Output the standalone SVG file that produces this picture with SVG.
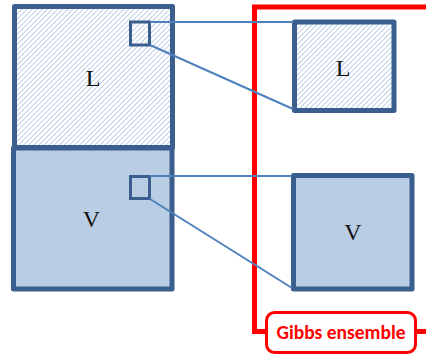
<svg xmlns="http://www.w3.org/2000/svg" width="426" height="358" viewBox="0 0 426 358">
<defs>
<pattern id="hatch" patternUnits="userSpaceOnUse" width="3.6" height="3.6" patternTransform="rotate(45)">
<rect width="3.6" height="3.6" fill="#ffffff"/>
<line x1="0" y1="0" x2="0" y2="3.6" stroke="#b6cae4" stroke-width="1.8"/>
</pattern>
<style>
.box{stroke:#3a5f8e;stroke-width:5;stroke-linejoin:round}
.small{fill:none;stroke:#3a5f8e;stroke-width:3}
.lbl{font-family:"Liberation Serif",serif;font-size:24px;fill:#111;text-anchor:middle}
.conn{stroke:#4f81bd;stroke-width:2;fill:none}
.red{stroke:#ff0000;stroke-width:5;fill:none}
</style>
</defs>
<rect width="426" height="358" fill="#ffffff"/>
<g id="gibbs-frame">
<polyline class="red" points="426,7 254.5,7 254.5,331.5 268,331.5"/>
<line class="red" x1="415" y1="331.5" x2="426" y2="331.5"/>
</g>
<g id="L-big">
<rect class="box" x="14.5" y="6.5" width="158" height="141" fill="url(#hatch)"/>
<text class="lbl" x="93" y="86">L</text>
</g>
<g id="V-big">
<rect class="box" x="13.5" y="148" width="158.5" height="141" fill="#b9cde5"/>
<text class="lbl" x="91.5" y="227">V</text>
</g>
<g id="L-small">
<rect class="small" x="130.5" y="22" width="19" height="23"/>
</g>
<g id="V-small">
<rect class="small" x="130.5" y="176.5" width="19" height="22"/>
</g>
<g id="L-right">
<rect class="box" x="294.5" y="22" width="99.5" height="88.5" fill="url(#hatch)"/>
<text class="lbl" x="343" y="76">L</text>
</g>
<g id="V-right">
<rect class="box" x="293.5" y="175.5" width="118.5" height="113.5" fill="#b9cde5"/>
<text class="lbl" x="353" y="240">V</text>
</g>
<g id="connectors">
<line class="conn" x1="150" y1="22" x2="293" y2="22"/>
<line class="conn" x1="150" y1="45" x2="293" y2="109"/>
<line class="conn" x1="150" y1="176" x2="292" y2="176"/>
<line class="conn" x1="150" y1="199" x2="292" y2="288"/>
</g>
<g id="gibbs-label">
<rect x="266.5" y="312.5" width="149" height="40" rx="8" fill="#ffffff" stroke="#ff0000" stroke-width="3"/>
<text x="341" y="339" font-family="Carlito, 'Liberation Sans', sans-serif" font-size="19.5" font-weight="bold" fill="#ff0000" text-anchor="middle">Gibbs ensemble</text>
</g>
</svg>
